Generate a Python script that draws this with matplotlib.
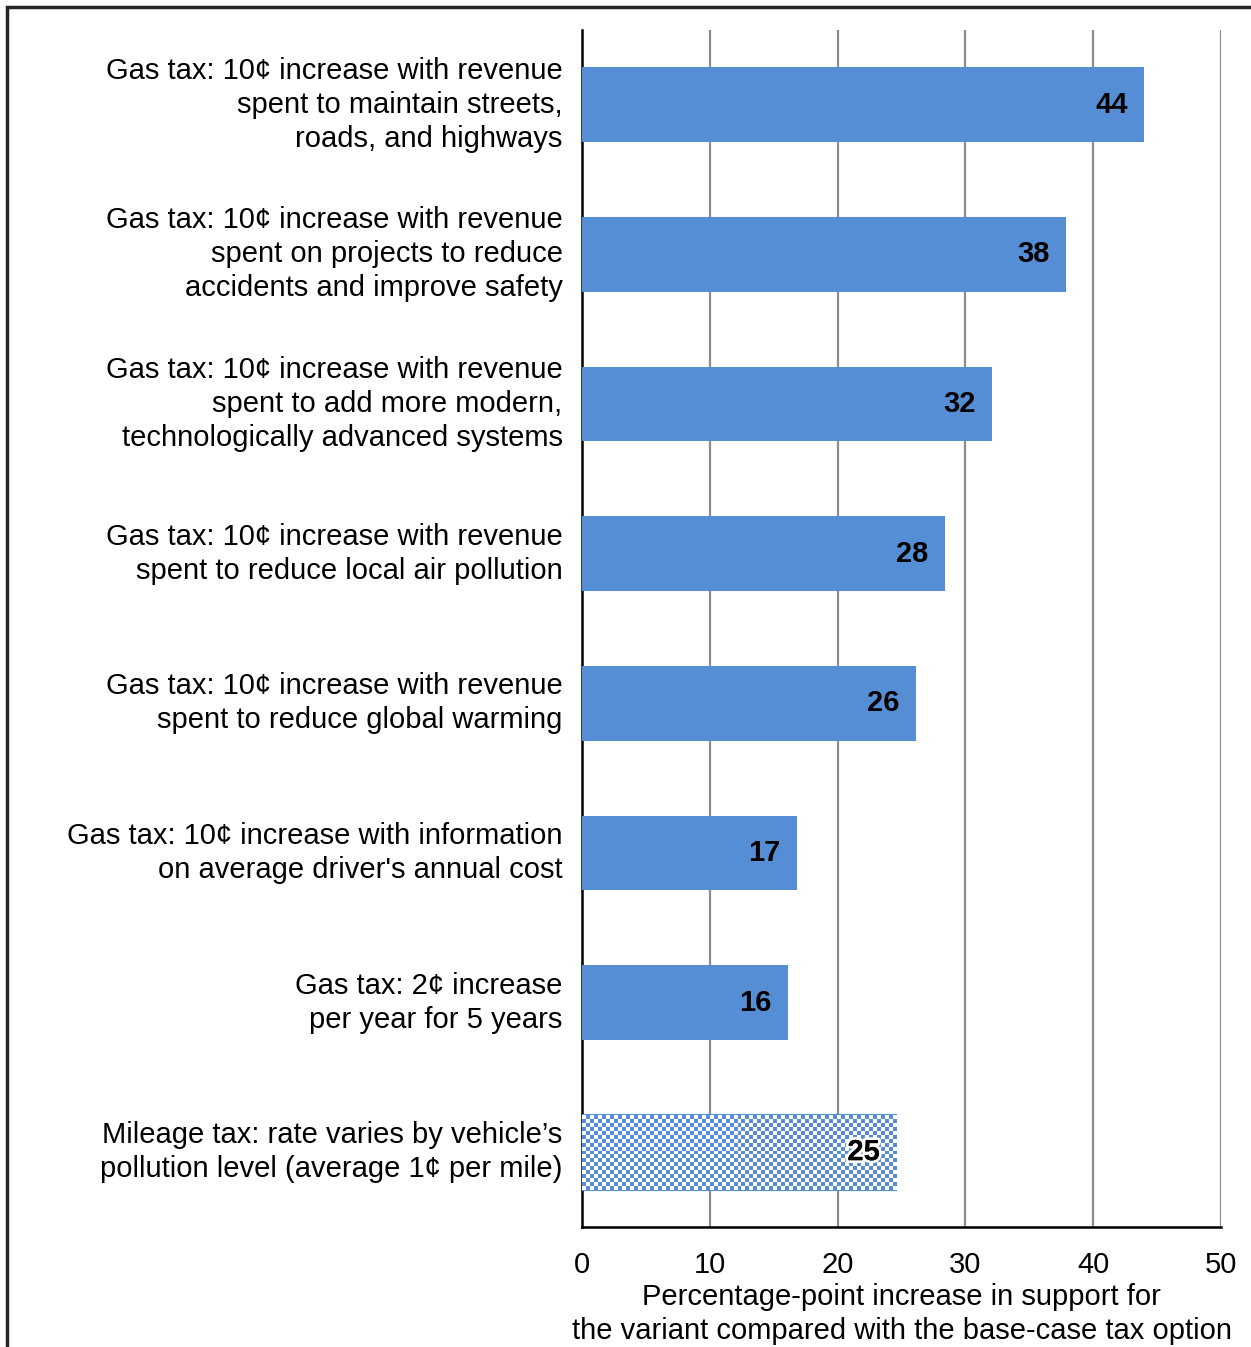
import numpy as np
import matplotlib
matplotlib.use("Agg")
import matplotlib.pyplot as plt
import matplotlib.patheffects as pe
from matplotlib.patches import Rectangle

plt.rcParams['font.family'] = ['Liberation Sans', 'DejaVu Sans']

categories = [
    "Gas tax: 10\u00a2 increase with revenue\nspent to maintain streets,\nroads, and highways",
    "Gas tax: 10\u00a2 increase with revenue\nspent on projects to reduce\naccidents and improve safety",
    "Gas tax: 10\u00a2 increase with revenue\nspent to add more modern,\ntechnologically advanced systems",
    "Gas tax: 10\u00a2 increase with revenue\nspent to reduce local air pollution",
    "Gas tax: 10\u00a2 increase with revenue\nspent to reduce global warming",
    "Gas tax: 10\u00a2 increase with information\non average driver's annual cost",
    "Gas tax: 2\u00a2 increase\nper year for 5 years",
    "Mileage tax: rate varies by vehicle\u2019s\npollution level (average 1\u00a2 per mile)",
]
values = [44.0, 37.9, 32.1, 28.4, 26.1, 16.8, 16.1, 24.6]
value_labels = ["44", "38", "32", "28", "26", "17", "16", "25"]
patterned = [False, False, False, False, False, False, False, True]
x_ticks = [0, 10, 20, 30, 40, 50]

blue = "#558ED5"
fs = 21

fig = plt.figure(figsize=(12.51, 13.47), dpi=100)
ax = fig.add_axes([582/1251, 1 - 1227/1347, (1221-582)/1251, (1227-30)/1347])

# outer frame (only top/left visible)
fig.patches.append(Rectangle((7/1251, -0.05), 1.1, 1 - 7/1347 + 0.05,
                             transform=fig.transFigure, fill=False,
                             edgecolor="#262626", linewidth=2.5, clip_on=False))

ypos = np.arange(len(values))
for y, v, lab, pat in zip(ypos, values, value_labels, patterned):
    if pat:
        bar = ax.barh(y, v, height=0.5, facecolor="white", edgecolor=blue,
                      linewidth=1.5, zorder=3)[0]
        ny, nx = 19, int(round(v * 12.78 / 4))
        checker = (np.indices((ny, nx)).sum(axis=0) % 2).astype(float)
        cmap = matplotlib.colors.ListedColormap(["white", blue])
        im = ax.imshow(checker, extent=(0, v, y + 0.25, y - 0.25), cmap=cmap,
                       aspect="auto", interpolation="nearest", zorder=3)
        im.set_clip_path(bar)
        t = ax.text(v - 1.3, y, lab, ha="right", va="center", fontsize=fs,
                    fontweight="bold", zorder=5)
        t.set_path_effects([pe.withStroke(linewidth=4, foreground="white"), pe.Normal()])
    else:
        ax.barh(y, v, height=0.5, color=blue, zorder=3)
        ax.text(v - 1.3, y, lab, ha="right", va="center", fontsize=fs,
                fontweight="bold", zorder=5)

ax.set_xlim(0, 50)
ax.set_ylim(len(values) - 0.5, -0.5)
ax.set_xticks(x_ticks)
ax.set_xticklabels([str(t) for t in x_ticks], fontsize=fs)
ax.set_yticks(ypos)
ax.set_yticklabels(categories, fontsize=fs, linespacing=1.27, va="center")
ax.tick_params(axis="y", length=0, pad=14)
ax.tick_params(axis="x", length=0, pad=17)
ax.xaxis.grid(True, color="#8c8c8c", linewidth=1.6, zorder=0)
ax.set_axisbelow(True)
for s in ["top", "right"]:
    ax.spines[s].set_visible(False)
ax.spines["left"].set_linewidth(1.8)
ax.spines["bottom"].set_linewidth(1.8)
ax.set_xlabel("Percentage-point increase in support for\nthe variant compared with the base-case tax option",
              fontsize=fs, labelpad=3, linespacing=1.3)

fig.savefig("out.png", dpi=100)
